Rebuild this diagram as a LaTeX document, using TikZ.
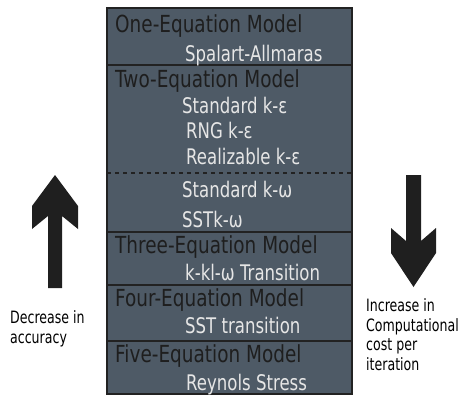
\documentclass[tikz,border=0pt]{standalone}
\usepackage{fontspec}
\setmainfont{DejaVu Sans}
\newfontfamily\hfont[FakeStretch=0.785]{DejaVu Sans}
\newfontfamily\sfontx[FakeStretch=0.77]{DejaVu Sans}
\newfontfamily\lfontx[FakeStretch=0.74]{DejaVu Sans}
\definecolor{boxfill}{HTML}{4E5A66}
\definecolor{hdark}{HTML}{1E1E1E}
\definecolor{slight}{HTML}{E6E6E6}
\definecolor{edge}{HTML}{222222}
\tikzset{
  hdr/.style={anchor=base west,inner sep=0pt,text=hdark,font=\hfont\fontsize{23.5}{25}\selectfont},
  sub/.style={anchor=base west,inner sep=0pt,text=slight,font=\sfontx\fontsize{21.5}{23}\selectfont},
  lbl/.style={anchor=base west,inner sep=0pt,text=black,font=\lfontx\fontsize{17}{19}\selectfont},
  divider/.style={draw=edge,line width=2.4pt},
  bigarrow/.style={fill=black!88,draw=none}
}
\begin{document}
\begin{tikzpicture}[x=1pt,y=-1pt]
\useasboundingbox (0,0) rectangle (461,397);
% main box
\fill[boxfill] (107,8) rectangle (352,394);
\draw[divider] (107,65) -- (352,65);
\draw[divider] (107,232) -- (352,232);
\draw[divider] (107,285) -- (352,285);
\draw[divider] (107,341) -- (352,341);
\draw[edge,line width=2.2pt,dash pattern=on 4pt off 4pt] (107,173) -- (352,173);
\draw[edge,line width=2.6pt] (107,8) rectangle (352,394);
% texts
\node[hdr] (h1) at (115,32) {One-Equation Model};
\node[sub] (s1) at (185,61) {Spalart-Allmaras};
\node[hdr] (h2) at (115,87) {Two-Equation Model};
\node[sub] (s2) at (182,113) {Standard k-ε};
\node[sub] (s3) at (186,138) {RNG k-ε};
\node[sub] (s4) at (186,164) {Realizable k-ε};
\node[sub] (s5) at (182,197) {Standard k-ω};
\node[sub] (s6) at (182,227) {SSTk-ω};
\node[hdr] (h3) at (115,253) {Three-Equation Model};
\node[sub] (s7) at (185,280) {k-kl-ω Transition};
\node[hdr] (h4) at (115,306) {Four-Equation Model};
\node[sub] (s8) at (185,333) {SST transition};
\node[hdr] (h5) at (115,362) {Five-Equation Model};
\node[sub] (s9) at (186,390) {Reynols Stress};
% arrows
\fill[bigarrow] (55,175) -- (78,206) -- (78,229) -- (62,216) -- (62,288)
  -- (48,288) -- (48,216) -- (32,229) -- (32,206) -- cycle;
\fill[bigarrow] (413.5,287) -- (436,253) -- (436,228) -- (421,241) -- (421,175)
  -- (406,175) -- (406,241) -- (391,228) -- (391,253) -- cycle;
% labels
\node[lbl] (l1) at (10,323) {Decrease in};
\node[lbl] (l2) at (10,343) {accuracy};
\node[lbl] (r1) at (366,311.5) {Increase in};
\node[lbl] (r2) at (366,331) {Computational};
\node[lbl] (r3) at (366,350.5) {cost per};
\node[lbl] (r4) at (366,370) {iteration};
\end{tikzpicture}
\end{document}
